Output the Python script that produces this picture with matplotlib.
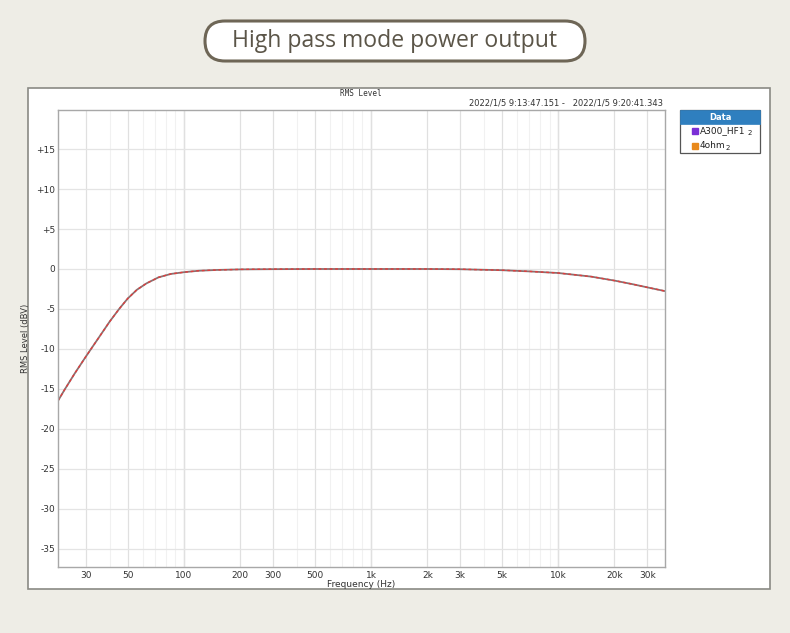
import matplotlib.pyplot as plt
from matplotlib.patches import FancyBboxPatch, Rectangle
from matplotlib.ticker import FixedLocator, NullFormatter

# data
freq_hz = [21.2, 23, 26, 30, 35, 40, 45, 50, 56, 63, 73, 85, 100, 120, 150,
           200, 300, 500, 1000, 2000, 3000, 5000, 7000, 10000, 15000, 20000,
           25000, 30000, 37000]
level_dbv = [-16.5, -15.1, -13.1, -10.9, -8.6, -6.6, -5.0, -3.7, -2.6, -1.8,
             -1.05, -0.62, -0.4, -0.22, -0.12, -0.05, -0.02, 0.0, 0.0, 0.0,
             -0.03, -0.15, -0.3, -0.5, -0.95, -1.45, -1.9, -2.3, -2.75]

x_ticks = [30, 50, 100, 200, 300, 500, 1000, 2000, 3000, 5000, 10000, 20000, 30000]
x_labels = ['30', '50', '100', '200', '300', '500', '1k', '2k', '3k', '5k', '10k', '20k', '30k']
y_ticks = [15, 10, 5, 0, -5, -10, -15, -20, -25, -30, -35]
y_labels = ['+15', '+10', '+5', '0', '-5', '-10', '-15', '-20', '-25', '-30', '-35']

legend_names = ['A300_HF1', '4ohm']
legend_colors = ['#7a2fd6', '#e8891c']

W, H = 790, 633
fig = plt.figure(figsize=(W / 100, H / 100), dpi=100)
fig.patch.set_facecolor('#eeede6')

# background layer in pixel coordinates
bg = fig.add_axes([0, 0, 1, 1], zorder=-1)
bg.set_xlim(0, W)
bg.set_ylim(H, 0)
bg.axis('off')

# title pill
bg.add_patch(FancyBboxPatch((205, 21), 380, 40,
                            boxstyle='round,pad=0,rounding_size=20',
                            facecolor='white', edgecolor='#6e6656', linewidth=2.2))
bg.text(395, 41, 'High pass mode power output', ha='center', va='center',
        fontsize=16.6, color='#5b5548', family='Open Sans')

# white chart panel
bg.add_patch(Rectangle((28, 88), 742, 501, facecolor='white',
                       edgecolor='#8a8a84', linewidth=1.2))

bg.text(361, 93, 'RMS Level', ha='center', va='center', fontsize=5.5,
        color='#333333', family='DejaVu Sans Mono')
bg.text(663, 103, '2022/1/5 9:13:47.151 -   2022/1/5 9:20:41.343', ha='right',
        va='center', fontsize=6, color='#333333')
bg.text(654, 119, 'AP', ha='center', va='center', fontsize=5.5,
        color='#3a6fc0', style='italic', fontweight='bold', zorder=5)

# data legend box
bg.add_patch(Rectangle((680, 110), 80, 43, facecolor='white',
                       edgecolor='#555555', linewidth=0.9))
bg.add_patch(Rectangle((680, 110), 80, 14, facecolor='#2f7fbf',
                       edgecolor='#2f7fbf', linewidth=0.5))
bg.text(720, 117, 'Data', ha='center', va='center', fontsize=6,
        color='white', fontweight='bold')
for i, (name, c) in enumerate(zip(legend_names, legend_colors)):
    yy = 131 + i * 15
    bg.add_patch(Rectangle((692, yy - 3), 6, 6, facecolor=c, edgecolor=c))
    bg.text(700, yy, name, ha='left', va='center', fontsize=6.5, color='#222222')
    bg.text(700 + len(name) * 5.4 + 4, yy + 2, '2', ha='left', va='center',
            fontsize=5, color='#222222')

# chart
ax = fig.add_axes([58 / W, 1 - 567 / H, 607 / W, 457 / H])
ax.set_facecolor('white')
ax.set_xscale('log')
ax.set_xlim(21.2, 37300)
ax.set_ylim(-37.3, 19.9)

minor = [m * 10 ** e for e in range(1, 5) for m in range(2, 10)]
ax.xaxis.set_major_locator(FixedLocator(x_ticks))
ax.set_xticklabels(x_labels)
ax.xaxis.set_minor_locator(FixedLocator(minor))
ax.xaxis.set_minor_formatter(NullFormatter())
ax.set_yticks(y_ticks)
ax.set_yticklabels(y_labels)

ax.grid(True, which='minor', axis='x', color='#f1f1f1', linewidth=0.8)
ax.grid(True, which='major', axis='x', color='#e0e0e0', linewidth=0.9)
for f in (100, 1000, 10000):
    ax.axvline(f, color='#d8d8d8', linewidth=0.9, zorder=0.5)
ax.grid(True, which='major', axis='y', color='#e4e4e4', linewidth=0.9)
ax.set_axisbelow(True)

ax.tick_params(which='both', length=0, labelsize=6.5, colors='#333333')
ax.tick_params(axis='x', pad=3)
ax.tick_params(axis='y', pad=2)
for s in ax.spines.values():
    s.set_color('#a8a8a8')
    s.set_linewidth(1.0)

ax.plot(freq_hz, level_dbv, color='#8a7070', linewidth=1.3)
ax.plot(freq_hz, level_dbv, color='#e23c3c', linewidth=1.0, dashes=(2, 2))

ax.set_xlabel('Frequency (Hz)', fontsize=6.5, color='#333333')
ax.xaxis.set_label_coords(0.5, -0.028)
ax.set_ylabel('RMS Level (dBV)', fontsize=6, color='#333333')
ax.yaxis.set_label_coords(-0.046, 0.5)

fig.savefig('out.png', dpi=100, facecolor=fig.get_facecolor())
